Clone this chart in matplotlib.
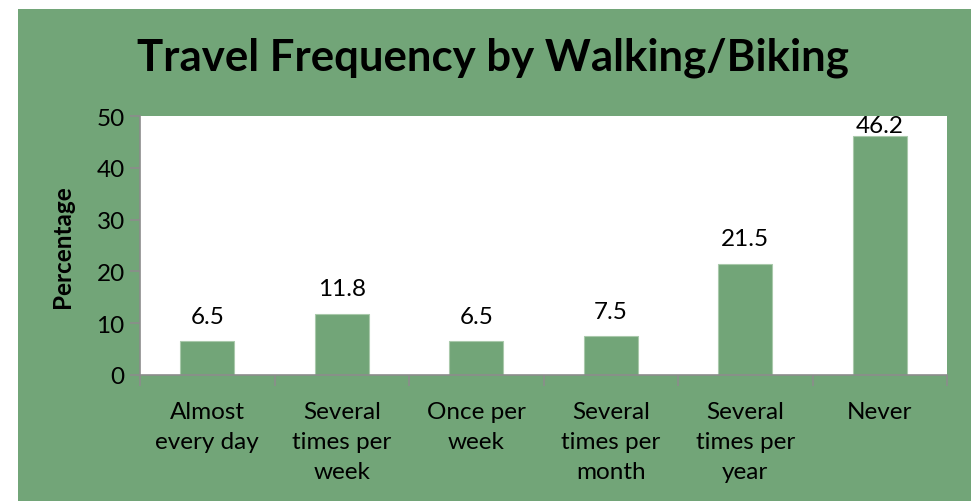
import matplotlib
matplotlib.use("Agg")
import matplotlib.pyplot as plt
from matplotlib.patches import Rectangle
import numpy as np

## Data
categories = ["Almost\nevery day", "Several\ntimes per\nweek", "Once per\nweek",
              "Several\ntimes per\nmonth", "Several\ntimes per\nyear", "Never"]
percentages = [6.5, 11.8, 6.5, 7.5, 21.5, 46.2]
yticks = [0, 10, 20, 30, 40, 50]

green = "#72a578"
grey = "#8c8c8c"
fs = 17.5

plt.rcParams['font.family'] = ['Lato', 'DejaVu Sans']

fig = plt.figure(figsize=(9.79, 5.02), dpi=100)
fig.patch.set_facecolor("white")
# green chart panel
fig.patches.append(Rectangle((18/979, 0), (971-18)/979, (502-10)/502,
                             transform=fig.transFigure, facecolor=green,
                             edgecolor="none", zorder=-10))

ax = fig.add_axes([140/979, (502-376)/502, (947-140)/979, (376-117)/502])
ax.set_facecolor("white")

x = np.arange(len(categories))
bars = ax.bar(x, percentages, width=0.4, color=green, edgecolor="#a9c9ab", linewidth=0.8)
for xi, v in zip(x, percentages):
    if v + 8 > 50:
        # label pushed inside the plot area, like excel does
        ax.text(xi, 50.2, f"{v}", ha="center", va="top", fontsize=fs)
    else:
        ax.text(xi, v + 3.6, f"{v}", ha="center", va="baseline", fontsize=fs)

ax.set_xlim(-0.5, len(categories) - 0.5)
ax.set_ylim(0, 50)
ax.set_yticks(yticks)
ax.tick_params(axis="y", labelsize=fs, length=7, color=grey, width=1.2, pad=4)

# category labels, ticks at boundaries
ax.set_xticks(np.arange(-0.5, len(categories)), minor=False)
ax.set_xticklabels([])
ax.set_xticks(x, minor=True)
ax.set_xticklabels(categories, minor=True, fontsize=fs, linespacing=1.52, va="top")
ax.tick_params(axis="x", which="major", length=8, color=grey, width=1.2)
ax.tick_params(axis="x", which="minor", length=0, pad=19)

for s in ["top", "right"]:
    ax.spines[s].set_visible(False)
for s in ["left", "bottom"]:
    ax.spines[s].set_color(grey)
    ax.spines[s].set_linewidth(1.2)

ax.set_ylabel("Percentage", fontsize=fs, fontweight="bold", labelpad=16)

fig.text(493/979, 1 - 58/502, "Travel Frequency by Walking/Biking",
         ha="center", va="center", fontsize=31.5, fontweight="bold")

fig.savefig("out.png", dpi=100)
